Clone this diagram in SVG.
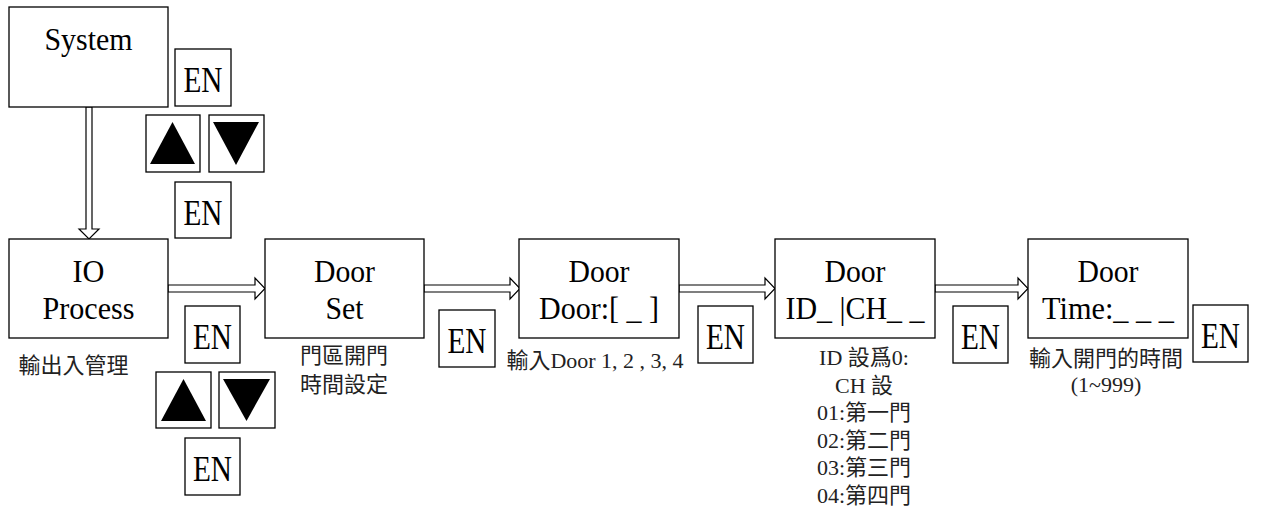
<svg xmlns="http://www.w3.org/2000/svg" width="1261" height="516" viewBox="0 0 1261 516">
<style>
  .box{fill:#fff;stroke:#000;stroke-width:1.3}
  .btxt{font-family:"Liberation Serif",serif;font-size:32px;fill:#000;text-anchor:middle}
  .en{font-family:"Liberation Serif",serif;font-size:36px;fill:#000;text-anchor:middle}
  .lbl{font-family:"Liberation Serif","Noto Sans CJK TC",serif;font-size:22px;fill:#222;text-anchor:middle}
  .arr{fill:#fff;stroke:#000;stroke-width:1.2;stroke-linejoin:miter}
  .tri{fill:#000}
</style>
<rect width="1261" height="516" fill="#fff"/>

<g id="connectors">
  <polygon class="arr" points="86,107 92,107 92,229 99,229 89,239 79,229 86,229"/>
  <polygon class="arr" points="168,285 255,285 255,278 265,288.5 255,299 255,292 168,292"/>
  <polygon class="arr" points="424,285 510,285 510,278 520,288.5 510,299 510,292 424,292"/>
  <polygon class="arr" points="679,285 765,285 765,278 775,288.5 765,299 765,292 679,292"/>
  <polygon class="arr" points="935,285 1018,285 1018,278 1028,288.5 1018,299 1018,292 935,292"/>
</g>

<g id="node-system">
  <rect class="box" x="9" y="7" width="159" height="100"/>
  <text class="btxt" x="88.5" y="50" textLength="88" lengthAdjust="spacingAndGlyphs">System</text>
</g>

<g id="node-io">
  <rect class="box" x="9" y="239" width="159" height="99"/>
  <text class="btxt" x="88.5" y="282" textLength="32" lengthAdjust="spacingAndGlyphs">IO</text>
  <text class="btxt" x="88.5" y="319" textLength="92" lengthAdjust="spacingAndGlyphs">Process</text>
  <text class="lbl" x="73.5" y="373">輸出入管理</text>
</g>

<g id="node-doorset">
  <rect class="box" x="265" y="239" width="159" height="99"/>
  <text class="btxt" x="344.5" y="282" textLength="61" lengthAdjust="spacingAndGlyphs">Door</text>
  <text class="btxt" x="344.5" y="319" textLength="38" lengthAdjust="spacingAndGlyphs">Set</text>
  <text class="lbl" x="344" y="363">門區開門</text>
  <text class="lbl" x="344" y="392">時間設定</text>
</g>

<g id="node-doordoor">
  <rect class="box" x="519" y="239" width="160" height="99"/>
  <text class="btxt" x="599" y="282" textLength="61" lengthAdjust="spacingAndGlyphs">Door</text>
  <text class="btxt" x="599" y="319" textLength="120" lengthAdjust="spacingAndGlyphs">Door:[ _ ]</text>
  <text class="lbl" x="595" y="368">輸入Door 1, 2 , 3, 4</text>
</g>

<g id="node-doorid">
  <rect class="box" x="775" y="239" width="160" height="99"/>
  <text class="btxt" x="855" y="282" textLength="61" lengthAdjust="spacingAndGlyphs">Door</text>
  <text class="btxt" x="855" y="319" textLength="139" lengthAdjust="spacingAndGlyphs">ID_ |CH_ _</text>
  <text class="lbl" x="864" y="365">ID 設爲0:</text>
  <text class="lbl" x="864" y="392.5">CH 設</text>
  <text class="lbl" x="864" y="420">01:第一門</text>
  <text class="lbl" x="864" y="447.5">02:第二門</text>
  <text class="lbl" x="864" y="475">03:第三門</text>
  <text class="lbl" x="864" y="502.5">04:第四門</text>
</g>

<g id="node-doortime">
  <rect class="box" x="1028" y="239" width="160" height="99"/>
  <text class="btxt" x="1108" y="282" textLength="61" lengthAdjust="spacingAndGlyphs">Door</text>
  <text class="btxt" x="1108" y="319" textLength="132" lengthAdjust="spacingAndGlyphs">Time:_ _ _</text>
  <text class="lbl" x="1106" y="366">輸入開門的時間</text>
  <text class="lbl" x="1106" y="392">(1~999)</text>
</g>

<g id="key-en-1"><rect class="box" x="175" y="49" width="56" height="57"/><text class="en" x="203" y="92" textLength="39" lengthAdjust="spacingAndGlyphs">EN</text></g>
<g id="key-up-1"><rect class="box" x="146" y="115" width="54" height="57"/><polygon class="tri" points="172.5,122 150,164 195,164"/></g>
<g id="key-down-1"><rect class="box" x="209" y="115" width="55" height="57"/><polygon class="tri" points="213,122 259,122 236,165"/></g>
<g id="key-en-2"><rect class="box" x="175" y="182" width="56" height="56"/><text class="en" x="203" y="225" textLength="39" lengthAdjust="spacingAndGlyphs">EN</text></g>

<g id="key-en-3"><rect class="box" x="185" y="306" width="55" height="57"/><text class="en" x="212.5" y="349" textLength="39" lengthAdjust="spacingAndGlyphs">EN</text></g>
<g id="key-up-2"><rect class="box" x="156" y="372" width="55" height="56"/><polygon class="tri" points="183.5,379 161,421 206,421"/></g>
<g id="key-down-2"><rect class="box" x="219" y="372" width="56" height="56"/><polygon class="tri" points="223,379 270,379 246.5,421"/></g>
<g id="key-en-4"><rect class="box" x="185" y="438" width="55" height="57"/><text class="en" x="212.5" y="481" textLength="39" lengthAdjust="spacingAndGlyphs">EN</text></g>

<g id="key-en-5"><rect class="box" x="439" y="310" width="56" height="57"/><text class="en" x="467" y="353" textLength="39" lengthAdjust="spacingAndGlyphs">EN</text></g>
<g id="key-en-6"><rect class="box" x="698" y="306" width="55" height="57"/><text class="en" x="725.5" y="349" textLength="39" lengthAdjust="spacingAndGlyphs">EN</text></g>
<g id="key-en-7"><rect class="box" x="953" y="306" width="55" height="57"/><text class="en" x="980.5" y="349" textLength="39" lengthAdjust="spacingAndGlyphs">EN</text></g>
<g id="key-en-8"><rect class="box" x="1193" y="305" width="55" height="57"/><text class="en" x="1220.5" y="348" textLength="39" lengthAdjust="spacingAndGlyphs">EN</text></g>
</svg>
